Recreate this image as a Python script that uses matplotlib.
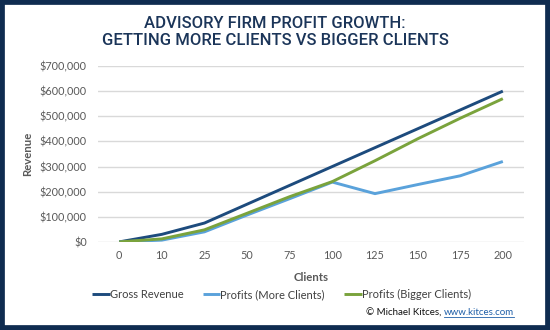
import matplotlib
matplotlib.use("Agg")
import matplotlib.pyplot as plt
from matplotlib.patches import Rectangle
from matplotlib.lines import Line2D
from matplotlib.ticker import FuncFormatter, MultipleLocator

clients = ["0", "10", "25", "50", "75", "100", "125", "150", "175", "200"]
gross_revenue = [0, 30000, 75000, 150000, 225000, 300000, 375000, 450000, 525000, 600000]
profits_more = [0, 7000, 40000, 107000, 172000, 238000, 192000, 228000, 263000, 320000]
profits_bigger = [0, 12000, 48000, 114000, 180000, 240000, 323000, 410000, 492000, 570000]
series_names = ["Gross Revenue", "Profits (More Clients)", "Profits (Bigger Clients)"]

NAVY = "#1d4b7d"
LBLUE = "#5aa2db"
GREEN = "#7aa33c"
BORDER = "#0f2c50"
TEXT = "#595959"

plt.rcParams['font.family'] = ['Lato', 'DejaVu Sans']

fig = plt.figure(figsize=(5.5, 3.3), dpi=100)
fig.patch.set_facecolor("white")
ax = fig.add_axes([0.178, 0.267, 0.775, 0.533])

x = list(range(len(clients)))
for vals, col, name in zip([gross_revenue, profits_more, profits_bigger], [NAVY, LBLUE, GREEN], series_names):
    ax.plot(x, vals, color=col, lw=2.1, label=name, solid_capstyle="butt")

ax.set_xlim(-0.5, len(clients) - 0.5)
ax.set_ylim(0, 700000)
ax.yaxis.set_major_locator(MultipleLocator(100000))
ax.yaxis.set_major_formatter(FuncFormatter(lambda v, p: "${:,.0f}".format(v)))
ax.set_xticks(x)
ax.set_xticklabels(clients)
ax.grid(axis="y", color="#d9d9d9", lw=1)
ax.set_axisbelow(True)
for s in ax.spines.values():
    s.set_visible(False)
ax.tick_params(length=0, labelsize=7.8, colors=TEXT, pad=6)
ax.tick_params(axis="y", pad=8)
ax.set_xlabel("Clients", fontsize=8.2, fontweight="bold", color=TEXT, labelpad=8)
ax.set_ylabel("Revenue", fontsize=8.2, fontweight="bold", color=TEXT, labelpad=5)

fig.text(0.5, 0.95, "ADVISORY FIRM PROFIT GROWTH:\nGETTING MORE CLIENTS VS BIGGER CLIENTS",
         ha="center", va="top", fontsize=12, color="#1b3559", fontweight="medium",
         family=["Roboto", "DejaVu Sans"], linespacing=1.12)

handles, labels = ax.get_legend_handles_labels()
fig.legend(handles, labels, loc="center", bbox_to_anchor=(0.512, 0.108), ncol=3, frameon=False,
           fontsize=8, handlelength=1.6, handletextpad=0.0, columnspacing=1.7,
           labelcolor="#404040")

# copyright
link = fig.text(0.935, 0.052, "www.kitces.com", ha="right", va="center", fontsize=7, color="#1f5fa8")
fig.canvas.draw()
r = fig.canvas.get_renderer()
bb = link.get_window_extent(r).transformed(fig.transFigure.inverted())
fig.text(bb.x0, 0.052, "\u00a9 Michael Kitces, ", ha="right", va="center", fontsize=7, color="#111111")
fig.add_artist(Line2D([bb.x0, bb.x1], [bb.y0 + 0.002, bb.y0 + 0.002], transform=fig.transFigure,
                      color="#1f5fa8", lw=0.6))

fig.add_artist(Rectangle((0, 0), 1, 1, transform=fig.transFigure, fill=False,
                         edgecolor=BORDER, lw=7, clip_on=False))

fig.savefig("out.png", dpi=100, facecolor="white")
